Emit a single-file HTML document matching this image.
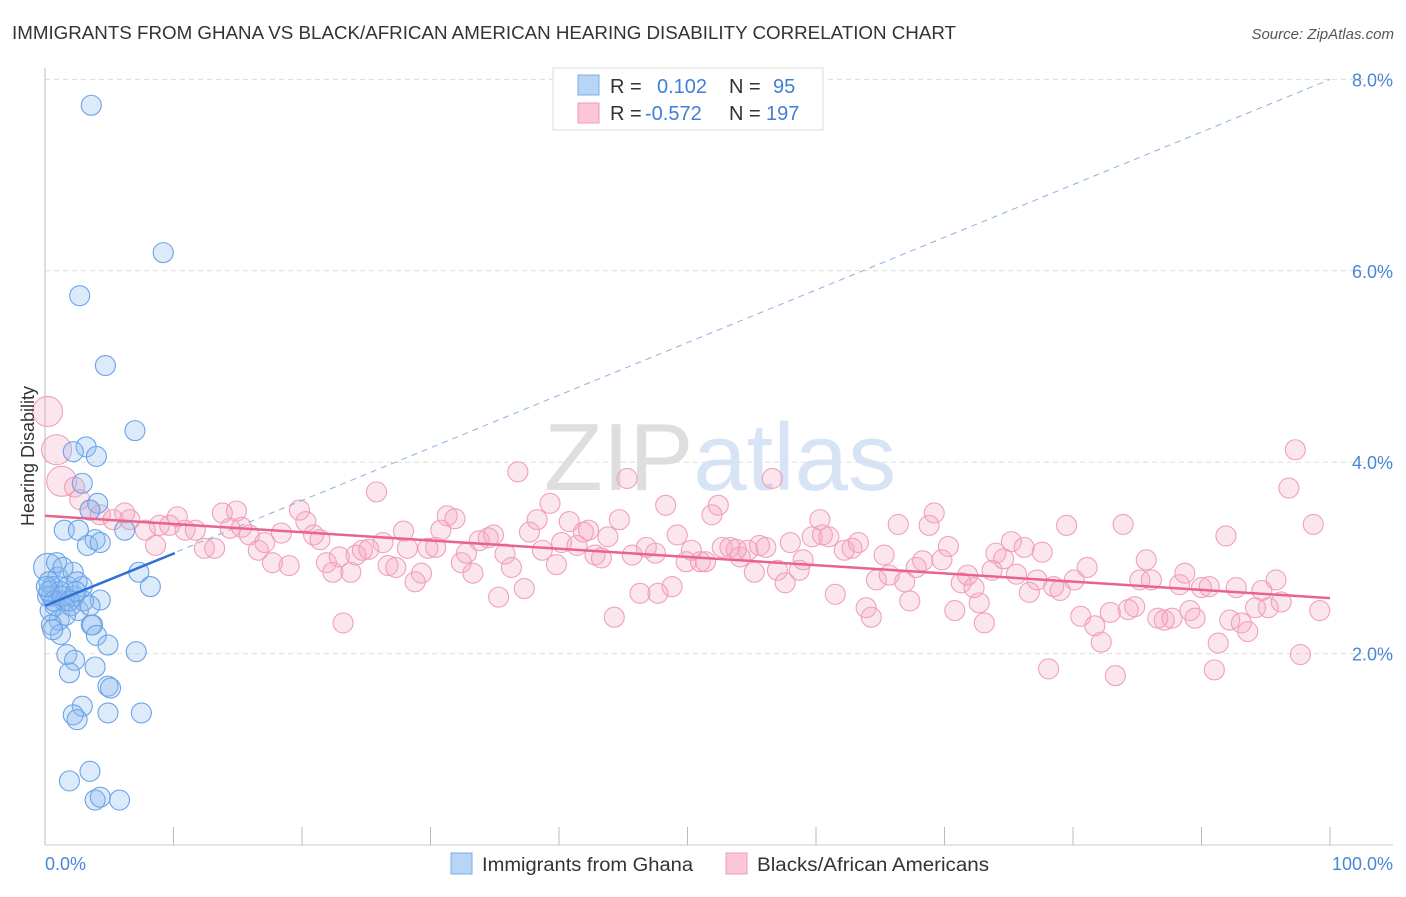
<!DOCTYPE html>
<html><head><meta charset="utf-8"><style>
body{margin:0;background:#fff;font-family:"Liberation Sans",sans-serif}
svg text{font-family:"Liberation Sans",sans-serif}
</style></head><body>
<svg id="chart" width="1406" height="892" xmlns="http://www.w3.org/2000/svg">
<text x="12" y="39" font-size="18.8" fill="#333" textLength="944" lengthAdjust="spacingAndGlyphs">IMMIGRANTS FROM GHANA VS BLACK/AFRICAN AMERICAN HEARING DISABILITY CORRELATION CHART</text>
<text x="1394" y="39" font-size="15" fill="#555" text-anchor="end" font-style="italic">Source: ZipAtlas.com</text>
<text x="720" y="490" font-size="96" fill="#e6e6e6" text-anchor="middle" font-family="Liberation Serif"><tspan fill="#dedede">ZIP</tspan><tspan fill="#d6e4f5" font-family="Liberation Sans">atlas</tspan></text>
<g id="grid"></g><g id="axes"></g><g id="pink"></g><g id="blue"></g><g id="trend"></g>
<text transform="translate(34,456) rotate(-90)" font-size="18" fill="#333" text-anchor="middle">Hearing Disability</text>
<text x="45" y="870" font-size="18" fill="#4a86d8">0.0%</text>
<text x="1393" y="870" font-size="18" fill="#4a86d8" text-anchor="end">100.0%</text>
<g>
<rect x="553" y="68" width="270" height="62" fill="#fff" stroke="#ddd"/>
<rect x="578" y="75" width="21" height="20" fill="#b8d4f6" stroke="#7aaeea"/>
<rect x="578" y="103" width="21" height="20" fill="#fbc6d6" stroke="#f09ab6"/>
<text x="610" y="93" font-size="20" fill="#333">R = <tspan fill="#3f7fd8" x="657">0.102</tspan><tspan x="729" fill="#333">N =</tspan><tspan x="773" fill="#3f7fd8">95</tspan></text>
<text x="610" y="120" font-size="20" fill="#333">R = <tspan fill="#3f7fd8" x="645">-0.572</tspan><tspan x="729" fill="#333">N =</tspan><tspan x="766" fill="#3f7fd8">197</tspan></text>
</g>
<g>
<rect x="451" y="853" width="21" height="21" fill="#b8d4f6" stroke="#7aaeea"/>
<text x="482" y="871" font-size="19" fill="#333" textLength="211" lengthAdjust="spacingAndGlyphs">Immigrants from Ghana</text>
<rect x="726" y="853" width="21" height="21" fill="#fbc6d6" stroke="#f09ab6"/>
<text x="757" y="871" font-size="19" fill="#333" textLength="232" lengthAdjust="spacingAndGlyphs">Blacks/African Americans</text>
</g>
</svg>
<script>
const yTicks=[2,4,6,8];
const yTickLabels=["2.0%","4.0%","6.0%","8.0%"];
const xTicks=[0,10,20,30,40,50,60,70,80,90,100];
const blueX=[3.6,9.2,2.7,4.7,7.0,3.2,2.2,4.0,2.9,4.1,3.5,1.5,2.6,3.9,3.3,4.3,6.2,7.3,8.2,4.3,0.2,0.3,0.5,0.8,1.0,1.2,0.6,1.5,1.8,2.0,2.3,2.6,0.4,1.1,1.6,3.0,3.5,2.9,2.2,0.9,1.4,2.5,0.2,0.5,3.6,3.7,4.0,4.9,7.1,1.7,2.3,3.9,1.9,4.9,5.1,2.9,2.2,2.5,4.9,7.5,1.9,3.5,3.9,4.3,5.8,1.2,0.6,0.3,0.7,1.3,1.9,2.4,0.1];
const blueY=[7.73,6.19,5.74,5.01,4.33,4.16,4.11,4.06,3.78,3.57,3.50,3.29,3.29,3.19,3.13,3.16,3.29,2.85,2.70,2.56,2.9,2.75,2.6,2.5,2.8,2.65,2.7,2.55,2.7,2.5,2.6,2.45,2.45,2.35,2.4,2.55,2.5,2.7,2.85,2.95,2.9,2.75,2.6,2.3,2.3,2.30,2.19,2.09,2.02,1.99,1.93,1.86,1.80,1.66,1.64,1.45,1.36,1.31,1.38,1.38,0.67,0.77,0.47,0.50,0.47,2.2,2.25,2.65,2.55,2.6,2.55,2.65,2.7];
const pinkX=[0.2,0.9,1.3,2.3,2.7,3.5,4.3,5.3,6.2,6.6,7.8,8.6,8.9,9.7,10.3,10.9,11.7,12.4,13.2,13.8,14.4,14.9,15.3,15.9,16.6,17.1,17.7,18.4,19.0,19.8,20.3,20.9,21.4,21.9,22.4,22.9,23.2,23.8,24.2,24.7,25.2,25.8,26.3,26.7,27.3,27.9,28.2,28.8,29.3,29.8,30.4,30.8,31.3,31.9,32.4,32.8,33.3,33.8,34.5,34.9,35.3,35.8,36.3,36.8,37.3,37.7,38.3,38.7,39.3,39.8,40.2,40.8,41.4,41.9,42.3,42.8,43.3,43.8,44.3,44.7,45.3,45.7,46.3,46.8,47.5,47.7,48.3,48.8,49.2,49.9,50.3,51.0,51.4,51.9,52.4,52.7,53.3,53.8,54.1,54.7,55.2,55.6,56.1,56.6,57.0,57.6,58.0,58.7,59.0,59.7,60.3,60.5,61.0,61.5,62.2,62.8,63.3,63.9,64.3,64.7,65.3,65.7,66.4,66.9,67.3,67.8,68.3,68.8,69.2,69.8,70.3,70.8,71.3,71.8,72.3,72.7,73.1,73.7,74.0,74.6,75.2,75.6,76.2,76.6,77.2,77.6,78.1,78.5,79.0,79.5,80.1,80.6,81.1,81.7,82.2,82.9,83.3,83.9,84.3,84.8,85.2,85.7,86.1,86.6,87.1,87.7,88.3,88.7,89.1,89.5,90.0,90.6,91.0,91.3,91.9,92.2,92.7,93.1,93.6,94.2,94.7,95.2,95.8,96.2,96.8,97.3,97.7,98.7,99.2];
const pinkY=[4.53,4.13,3.80,3.74,3.61,3.50,3.45,3.40,3.47,3.40,3.29,3.13,3.34,3.34,3.43,3.29,3.29,3.10,3.10,3.47,3.31,3.49,3.32,3.24,3.08,3.16,2.95,3.26,2.92,3.50,3.38,3.24,3.19,2.95,2.85,3.01,2.32,2.85,3.03,3.08,3.09,3.69,3.16,2.92,2.90,3.28,3.10,2.75,2.84,3.10,3.11,3.29,3.44,3.41,2.95,3.05,2.84,3.18,3.21,3.24,2.59,3.04,2.90,3.90,2.68,3.27,3.40,3.08,3.57,2.93,3.16,3.38,3.13,3.27,3.29,3.03,3.00,3.22,2.38,3.40,3.83,3.03,2.63,3.11,3.05,2.63,3.55,2.70,3.24,2.96,3.08,2.96,2.96,3.45,3.55,3.11,3.11,3.09,3.01,3.08,2.85,3.13,3.11,3.83,2.87,2.74,3.16,2.87,2.98,3.22,3.40,3.24,3.22,2.62,3.08,3.10,3.16,2.48,2.38,2.77,3.03,2.82,3.35,2.75,2.55,2.90,2.97,3.34,3.47,2.98,3.12,2.45,2.74,2.82,2.69,2.53,2.32,2.87,3.05,2.99,3.17,2.83,3.11,2.64,2.77,3.06,1.84,2.70,2.66,3.34,2.77,2.39,2.90,2.29,2.12,2.43,1.77,3.35,2.46,2.49,2.77,2.98,2.77,2.37,2.35,2.37,2.72,2.84,2.45,2.37,2.69,2.70,1.83,2.11,3.23,2.35,2.69,2.32,2.23,2.48,2.66,2.48,2.77,2.54,3.73,4.13,1.99,3.35,2.45];
const pinkTrend=[[0,3.44],[100,2.58]];
const blueTrend=[[0,2.50],[10.1,3.05]];
const blueDash=[[0,2.50],[100,8.0]];
const NS="http://www.w3.org/2000/svg";
const X=v=>45+v*12.85, Y=v=>845-v*95.7;
function mk(tag,parent,attrs){const e=document.createElementNS(NS,tag);for(const k in attrs)e.setAttribute(k,attrs[k]);document.getElementById(parent).appendChild(e);return e;}
yTicks.forEach((t,i)=>{
 const l=mk('line','grid',{x1:45,x2:1393,y1:Y(t),y2:Y(t),stroke:'#ddd','stroke-dasharray':'5,4'});
 
 
 const tx=mk('text','grid',{x:1393,y:Y(t)+7,'font-size':18,fill:'#4a86d8','text-anchor':'end'});
 tx.textContent=yTickLabels[i];
 
 
});
const ax=mk('line','axes',{x1:45,x2:45,y1:68,y2:845,stroke:'#bbb'});


const bx=mk('line','axes',{x1:45,x2:1393,y1:845,y2:845,stroke:'#ccc'});


xTicks.forEach(t=>{const l=mk('line','axes',{x1:X(t),x2:X(t),y1:827,y2:845,stroke:'#bbb'});
 
 });
pinkX.forEach((x,i)=>{const r=i<3?15:10;const c=mk('circle','pink',{cx:X(x),cy:Y(pinkY[i]),r:r,fill:'rgba(246,165,192,0.28)',stroke:'#f0a0bb','stroke-width':1.1});
 
 });
blueX.forEach((x,i)=>{const r=i==20?14:10;const c=mk('circle','blue',{cx:X(x),cy:Y(blueY[i]),r:r,fill:'rgba(140,184,238,0.3)',stroke:'#6aa3ea','stroke-width':1.1});
 
 });
const d=mk('line','trend',{x1:X(blueDash[0][0]),y1:Y(blueDash[0][1]),x2:X(blueDash[1][0]),y2:Y(blueDash[1][1]),stroke:'#8ab0e0','stroke-dasharray':'6,5','stroke-width':1});


const p=mk('line','trend',{x1:X(pinkTrend[0][0]),y1:Y(pinkTrend[0][1]),x2:X(pinkTrend[1][0]),y2:Y(pinkTrend[1][1]),stroke:'#e8638f','stroke-width':2.5});


const b=mk('line','trend',{x1:X(blueTrend[0][0]),y1:Y(blueTrend[0][1]),x2:X(blueTrend[1][0]),y2:Y(blueTrend[1][1]),stroke:'#2f6fd6','stroke-width':2.5});


</script>
</body></html>
